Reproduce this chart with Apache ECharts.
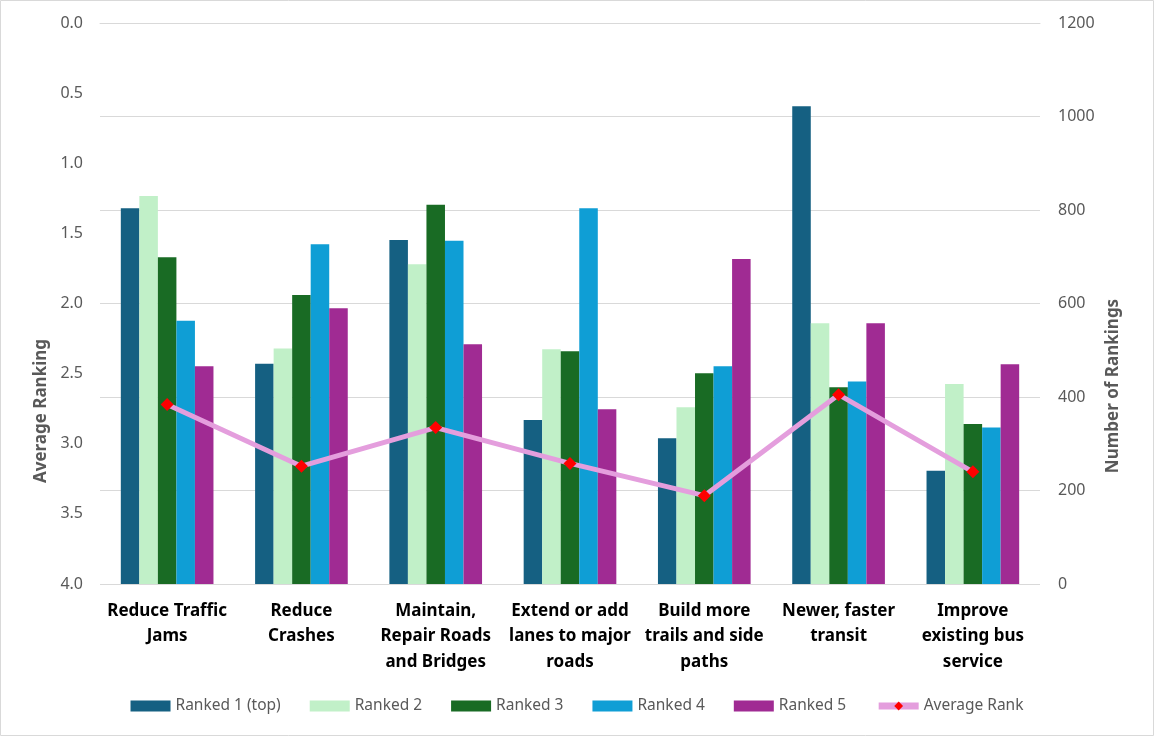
<!DOCTYPE html>
<html>
<head>
<meta charset="utf-8">
<script src="https://cdn.jsdelivr.net/npm/echarts@6/dist/echarts.min.js"></script>
<style>
html,body{margin:0;padding:0;background:#fff;}
#chart{width:1154px;height:736px;}
</style>
</head>
<body>
<div id="chart"></div>
<script>
const categories = ["Reduce Traffic\nJams", "Reduce\nCrashes", "Maintain,\nRepair Roads\nand Bridges", "Extend or add\nlanes to major\nroads", "Build more\ntrails and side\npaths", "Newer, faster\ntransit", "Improve\nexisting bus\nservice"];
const ranked1 = [804, 471, 736, 351, 312, 1022, 242];
const ranked2 = [830, 504, 684, 502, 378, 558, 428];
const ranked3 = [699, 618, 811, 498, 451, 421, 342];
const ranked4 = [563, 727, 734, 804, 466, 433, 335];
const ranked5 = [466, 590, 513, 374, 695, 558, 470];
const averageRank = [2.72, 3.16, 2.885, 3.14, 3.37, 2.65, 3.20];
const leftTicks = [0, 4, 0.5];
const rightTicks = [0, 1200, 200];

const chart = echarts.init(document.getElementById('chart'));
const font = "'Noto Sans', 'Liberation Sans', sans-serif";
const gray = '#595959';
function bar(name, data, color) {
  return { name, type: 'bar', yAxisIndex: 1, data, itemStyle: { color },
    barGap: '0%', barCategoryGap: '31%' };
}
chart.setOption({
  animation: false,
  textStyle: { fontFamily: font },
  grid: { left: 100, right: 114, top: 23, bottom: 152 },
  graphic: [
    { type: 'rect', shape: { x: 0.5, y: 0.5, width: 1153, height: 735 },
      style: { fill: 'none', stroke: '#d9d9d9', lineWidth: 1 }, silent: true },
    { type: 'text', x: 41, y: 411, rotation: Math.PI / 2,
      style: { text: 'Average Ranking', fill: gray, font: 'bold 17px ' + font, align: 'center', verticalAlign: 'middle' } },
    { type: 'text', x: 1113, y: 386, rotation: Math.PI / 2,
      style: { text: 'Number of Rankings', fill: gray, font: 'bold 17px ' + font, align: 'center', verticalAlign: 'middle' } }
  ],
  legend: {
    bottom: 17, left: 'center', itemWidth: 40, itemHeight: 11, itemGap: 29,
    textStyle: { color: gray, fontSize: 15.5, fontFamily: font },
    data: [
      { name: 'Ranked 1 (top)', icon: 'rect' },
      { name: 'Ranked 2', icon: 'rect' },
      { name: 'Ranked 3', icon: 'rect' },
      { name: 'Ranked 4', icon: 'rect' },
      { name: 'Ranked 5', icon: 'rect' },
      { name: 'Average Rank', lineStyle: { width: 7, color: '#e49edd' } }
    ]
  },
  xAxis: {
    type: 'category', data: categories,
    axisLine: { show: true, lineStyle: { color: '#d9d9d9', width: 1 } },
    axisTick: { show: false },
    axisLabel: { color: '#000', fontWeight: 'bold', fontSize: 17, lineHeight: 25.5, margin: 14, interval: 0, fontFamily: font }
  },
  yAxis: [
    { type: 'value', inverse: true, min: leftTicks[0], max: leftTicks[1], interval: leftTicks[2], position: 'left',
      splitLine: { show: false }, axisLine: { show: false }, axisTick: { show: false },
      axisLabel: { color: gray, fontSize: 16, margin: 17, formatter: v => v.toFixed(1) } },
    { type: 'value', min: rightTicks[0], max: rightTicks[1], interval: rightTicks[2], position: 'right',
      splitLine: { show: true, lineStyle: { color: '#d9d9d9', width: 1 } },
      axisLine: { show: false }, axisTick: { show: false },
      axisLabel: { color: gray, fontSize: 16, margin: 18, formatter: v => String(v) } }
  ],
  series: [
    bar('Ranked 1 (top)', ranked1, '#156082'),
    bar('Ranked 2', ranked2, '#c1f0c8'),
    bar('Ranked 3', ranked3, '#196b24'),
    bar('Ranked 4', ranked4, '#0f9ed5'),
    bar('Ranked 5', ranked5, '#a02b93'),
    { name: 'Average Rank', type: 'line', yAxisIndex: 0, data: averageRank, z: 5,
      symbol: 'diamond', symbolSize: 13, itemStyle: { color: '#ff0000' },
      lineStyle: { color: '#e49edd', width: 5 } }
  ]
});
</script>
</body>
</html>
